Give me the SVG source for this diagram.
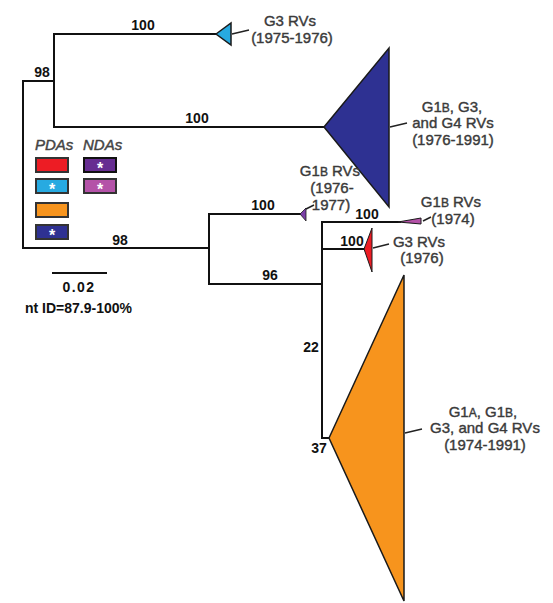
<svg xmlns="http://www.w3.org/2000/svg" width="553" height="603" viewBox="0 0 553 603">
<style>
.br{fill:none;stroke:#111;stroke-width:2;stroke-linecap:square}
.ld{fill:none;stroke:#222;stroke-width:1.5}
.tri{stroke:#1a1a1a;stroke-width:1.5;stroke-linejoin:miter}
.num{font-family:"Liberation Sans",Arial,sans-serif;font-size:14px;font-weight:bold;fill:#111;text-anchor:middle}
.lab{font-family:"Liberation Sans",Arial,sans-serif;font-size:15px;fill:#3a3a3a;text-anchor:middle;stroke:#3a3a3a;stroke-width:0.4}
.sc{font-size:12px}
.leg{font-family:"Liberation Sans",Arial,sans-serif;font-size:15px;font-style:italic;fill:#444;stroke:#444;stroke-width:0.45}
.box{stroke:#333;stroke-width:2}
.star{font-family:"Liberation Sans",Arial,sans-serif;font-size:16px;font-weight:bold;fill:#fff;text-anchor:middle}
</style>
<rect width="553" height="603" fill="#fff"/>
<g id="connectors">
<path class="br" d="M54,34H216M54,34V127M54,127H324M23,81H54M23,81V248M23,248H209M209,214V284M209,214H300M209,284H322M322,222V438M322,222H400M322,249H364M322,438H329"/>
<path class="ld" d="M232,34L249,30M390,127L407,123M306,209L314,205M423,221L431,217M373,248L389,244M405,433L422,429"/>
</g>
<g id="bootstrap">
<text class="num" x="143" y="30">100</text>
<text class="num" x="42" y="77">98</text>
<text class="num" x="197" y="123">100</text>
<text class="num" x="120" y="245">98</text>
<text class="num" x="263" y="210">100</text>
<text class="num" x="270" y="280">96</text>
<text class="num" x="367" y="219">100</text>
<text class="num" x="352" y="246">100</text>
<text class="num" x="311" y="352">22</text>
<text class="num" x="319" y="453">37</text>
</g>
<g id="clade-g3-cyan">
<polygon class="tri" points="216,34 231,23 231,45" fill="#27aae1"/>
<text class="lab" x="290" y="26">G3 RVs</text>
<text class="lab" x="292" y="43">(1975-1976)</text>
</g>
<g id="clade-blue">
<polygon class="tri" points="324,127 389,48 389,207" fill="#2e3192"/>
<text class="lab" x="452" y="112">G1<tspan class="sc">B</tspan>, G3,</text>
<text class="lab" x="453" y="128">and G4 RVs</text>
<text class="lab" x="453" y="145">(1976-1991)</text>
</g>
<g id="clade-purple">
<polygon class="tri" points="300,214 306,208 306,221" fill="#7b3fa8" style="stroke-width:0.8"/>
<text class="lab" x="330" y="176">G1<tspan class="sc">B</tspan> RVs</text>
<text class="lab" x="332" y="193">(1976-</text>
<text class="lab" x="331" y="210">1977)</text>
</g>
<g id="clade-pink">
<polygon class="tri" points="398,222 421,218 421,224" fill="#b452a8" style="stroke-width:1"/>
<text class="lab" x="451" y="207">G1<tspan class="sc">B</tspan> RVs</text>
<text class="lab" x="453" y="224">(1974)</text>
</g>
<g id="clade-red">
<polygon class="tri" points="364,249 372,228 372,272" fill="#ed1c24" style="stroke-width:1"/>
<text class="lab" x="419" y="247">G3 RVs</text>
<text class="lab" x="422" y="263">(1976)</text>
</g>
<g id="clade-orange">
<polygon class="tri" points="329,438 404,275 404,601" fill="#f7941d"/>
<text class="lab" x="483" y="417">G1<tspan class="sc">A</tspan>, G1<tspan class="sc">B</tspan>,</text>
<text class="lab" x="485" y="433">G3, and G4 RVs</text>
<text class="lab" x="485" y="450">(1974-1991)</text>
</g>
<g id="legend">
<text class="leg" x="35" y="150">PDAs</text>
<text class="leg" x="83" y="150">NDAs</text>
<rect class="box" x="36" y="158" width="32" height="14" fill="#ed1c24"/>
<rect class="box" x="36" y="179" width="32" height="14" fill="#27aae1"/>
<text class="star" x="52" y="195">*</text>
<rect class="box" x="36" y="203" width="32" height="14" fill="#f7941d"/>
<rect class="box" x="36" y="225" width="32" height="14" fill="#2e3192"/>
<text class="star" x="52" y="241">*</text>
<rect class="box" x="84" y="158" width="32" height="14" fill="#662d91" style="stroke:#111"/>
<text class="star" x="100" y="174">*</text>
<rect class="box" x="84" y="179" width="32" height="14" fill="#b452a8"/>
<text class="star" x="100" y="195">*</text>
</g>
<g id="scale">
<path class="br" d="M52,273H107" style="stroke-linecap:butt"/>
<text class="num" x="79" y="292" style="letter-spacing:1.5px">0.02</text>
<text class="num" x="25" y="313" style="text-anchor:start">nt ID=87.9-100%</text>
</g>
</svg>
